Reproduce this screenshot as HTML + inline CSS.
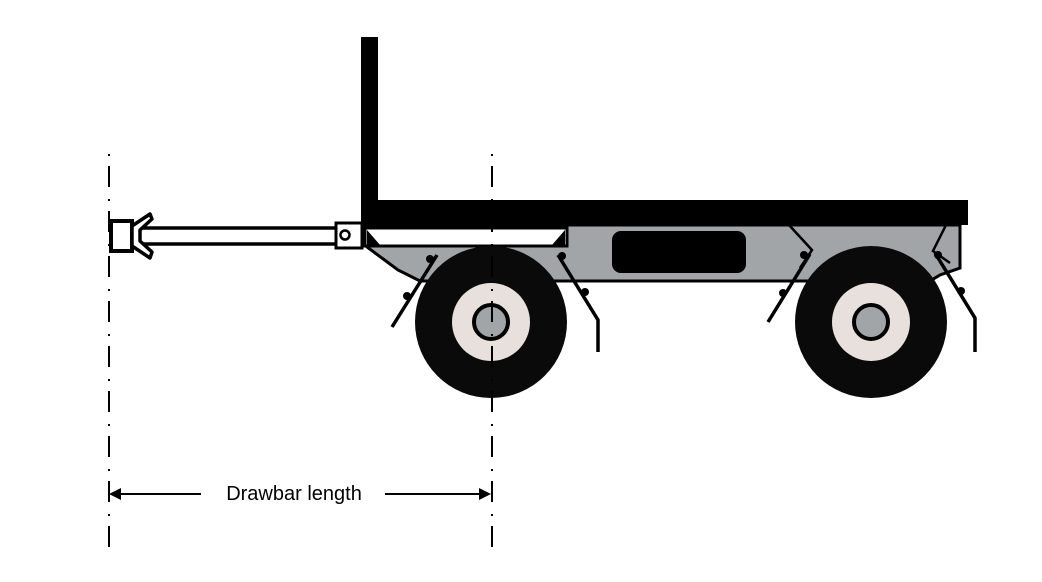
<!DOCTYPE html>
<html><head><style>html,body{margin:0;padding:0;background:#fff}svg{display:block}</style></head>
<body>
<svg width="1042" height="582" viewBox="0 0 1042 582" xmlns="http://www.w3.org/2000/svg">
<rect width="1042" height="582" fill="#fff"/>
<polygon points="365,225 960,225 960,268 940,275 930,281 420,281 398,270 367,247" fill="#a2a5a7" stroke="#000" stroke-width="3"/>
<rect x="612" y="231" width="134" height="42" rx="9" fill="#000"/>
<polyline points="789,225 812,250 800,268" fill="none" stroke="#000" stroke-width="2.5"/>
<polyline points="946,225 933,251 950,263" fill="none" stroke="#000" stroke-width="2.5"/>
<rect x="365" y="228" width="202" height="18" fill="#fff" stroke="#000" stroke-width="3"/>
<polygon points="367,230 380,245 367,245" fill="#000"/>
<polygon points="565,230 552,245 565,245" fill="#000"/>
<rect x="361" y="37" width="17" height="170" fill="#000"/>
<rect x="361" y="200" width="607" height="25" fill="#000"/>
<rect x="138" y="228" width="200" height="16" fill="#fff" stroke="#000" stroke-width="3.5"/>
<rect x="336" y="223" width="26" height="25" fill="#fff" stroke="#000" stroke-width="3"/>
<circle cx="345" cy="235" r="4.5" fill="#fff" stroke="#000" stroke-width="2.5"/>
<rect x="111" y="221" width="21" height="30" fill="#fff" stroke="#000" stroke-width="4"/>
<polygon points="132,226 150,214 152,219 140,230 140,241 152,252 150,258 132,246" fill="#fff" stroke="#000" stroke-width="3.5" stroke-linejoin="round"/>
<g>
<circle cx="491" cy="322" r="76" fill="#0a0a0a"/>
<circle cx="491" cy="322" r="39" fill="#e8e0dc"/>
<circle cx="491" cy="322" r="17" fill="#a2a5a7" stroke="#000" stroke-width="4"/>
<circle cx="871" cy="322" r="76" fill="#0a0a0a"/>
<circle cx="871" cy="322" r="39" fill="#e8e0dc"/>
<circle cx="871" cy="322" r="17" fill="#a2a5a7" stroke="#000" stroke-width="4"/>
</g>
<g fill="none" stroke="#000" stroke-width="3.5">
<line x1="392" y1="327" x2="437" y2="255"/>
<polyline points="558,255 598,320 598,352"/>
<line x1="768" y1="322" x2="810" y2="254"/>
<polyline points="935,253 975,318 975,352"/>
</g>
<g fill="#000">
<circle cx="430" cy="259" r="4"/><circle cx="407" cy="296" r="4"/>
<circle cx="562" cy="256" r="4"/><circle cx="585" cy="292" r="4"/>
<circle cx="804" cy="255" r="4"/><circle cx="783" cy="293" r="4"/>
<circle cx="938" cy="255" r="4"/><circle cx="961" cy="291" r="4"/>
</g>
<g stroke="#000" stroke-width="2" stroke-dasharray="2 10 21 12" fill="none">
<line x1="109" y1="154" x2="109" y2="549"/>
<line x1="492" y1="154" x2="492" y2="549"/>
</g>
<g stroke="#000" stroke-width="2">
<line x1="115" y1="494" x2="201" y2="494"/>
<line x1="385" y1="494" x2="484" y2="494"/>
</g>
<polygon points="109,494 121,488 121,500" fill="#000"/>
<polygon points="491,494 479,488 479,500" fill="#000"/>
<text x="294" y="500" font-family="Liberation Sans, sans-serif" font-size="20" text-anchor="middle" fill="#000">Drawbar length</text>
</svg>
</body></html>
